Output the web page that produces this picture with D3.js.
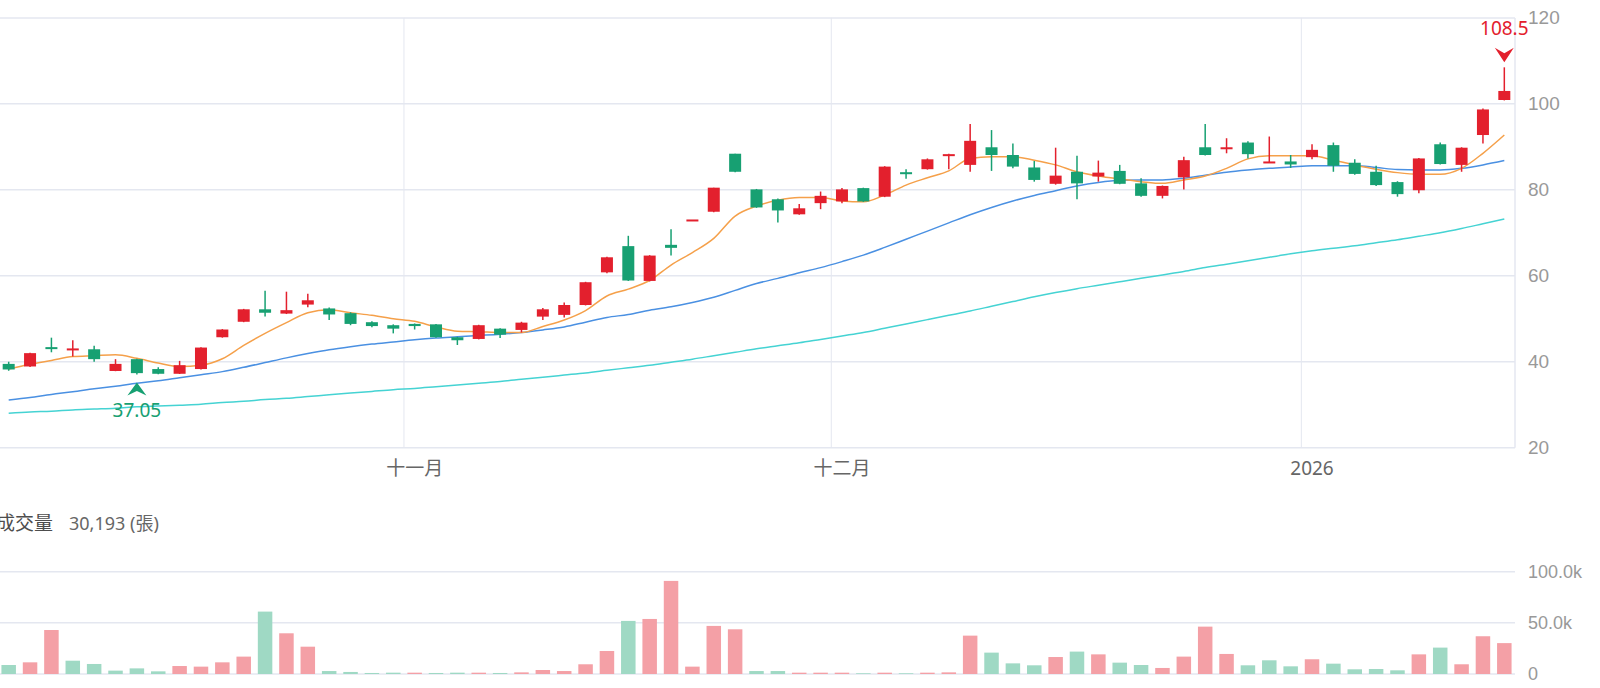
<!DOCTYPE html>
<html>
<head>
<meta charset="utf-8">
<script src="https://cdn.jsdelivr.net/npm/d3@7"></script>
<style>
  html, body { margin: 0; padding: 0; background: #fff; overflow: hidden; }
  svg { display: block; font-family: "Noto Sans", "Noto Sans CJK TC", sans-serif; }
</style>
</head>
<body>
<svg id="chart" width="1600" height="688"></svg>
<script>
// daily K bars (71 trading days)
var opens = [39.5,38.9,43.4,42.9,42.9,37.85,40.6,38.3,37.2,38.3,
  45.7,49.3,52.2,51.2,53.3,52.4,51.3,49.2,48.5,48.8,
  48.7,45.7,45.3,47.7,47.4,50.5,50.9,53.2,60.8,66.9,
  58.8,67.2,73.1,74.9,88.4,80.1,77.8,74.3,76.9,77.3,
  80.4,78.4,84.1,84.8,88.0,85.8,89.9,88.1,85.2,81.4,
  84.2,83.1,84.4,81.5,78.6,82.9,89.9,89.6,91.0,86.4,
  86.6,87.6,90.4,86.3,84.2,81.8,79.9,90.6,85.8,92.75,100.9];
var highs = [40.0,42.1,45.6,45.0,43.7,40.6,40.7,38.7,40.2,43.4,
  47.6,52.3,56.5,56.3,55.8,52.6,51.5,49.4,48.7,48.9,
  48.8,45.8,48.6,47.8,49.3,52.5,53.8,58.6,64.4,69.3,
  64.8,70.8,73.1,80.5,88.4,80.2,78.0,76.7,79.6,80.4,
  80.5,85.5,84.8,87.3,88.4,95.3,93.9,90.8,86.7,89.8,
  87.9,86.8,85.8,82.7,81.0,87.7,95.3,92.0,91.3,92.4,
  88.1,90.6,91.0,87.1,85.6,82.0,87.4,91.0,89.9,98.9,108.5];
var lows = [37.9,38.8,42.2,41.2,40.0,37.8,37.05,37.1,37.15,38.2,
  45.6,49.2,50.5,51.1,52.7,49.7,48.5,48.0,46.6,47.5,
  45.6,43.9,45.2,45.5,46.8,49.7,50.3,53.1,60.6,58.8,
  58.7,64.7,73.1,74.8,84.1,75.8,72.4,74.2,75.5,76.9,
  77.2,78.3,82.6,84.7,84.8,84.2,84.4,85.0,81.9,81.2,
  77.8,81.9,81.3,78.4,78.0,80.1,88.0,88.5,87.3,86.3,
  85.1,87.1,84.2,83.5,80.9,78.4,79.2,85.9,84.2,90.8,100.8];
var closes = [38.2,42.0,43.3,43.1,40.6,39.5,37.35,37.2,39.2,43.3,
  47.5,52.2,51.4,52.0,54.3,51.0,48.8,48.3,47.7,48.3,
  45.7,45.0,48.5,46.3,49.1,52.2,53.2,58.5,64.3,58.9,
  64.7,66.5,73.1,80.5,84.2,75.9,75.2,75.7,78.6,80.1,
  77.3,85.4,83.9,87.1,88.3,91.4,88.1,85.4,82.3,83.3,
  81.5,84.0,81.4,78.6,80.9,86.9,88.1,89.9,88.3,86.6,
  85.9,89.3,85.6,83.7,81.1,79.0,87.3,86.0,89.8,98.7,103.0];
var prevClose = 39.0;   // close of the day before the first bar

// 成交量 (張)
var volumes = [8800,11400,43000,13000,9800,3300,5500,2600,7800,7200,
  11400,17000,61000,39800,26700,2900,2000,1000,1300,1300,
  1000,1300,1300,1000,1600,3900,2900,9500,22500,51900,
  53800,91000,7200,47000,43700,2900,2900,1300,1300,1300,
  700,1300,700,1300,1600,37500,20900,10400,8500,16600,
  21900,19200,11100,8800,5900,17000,46300,19600,8500,13400,
  7500,14400,10100,4600,4900,3600,19200,25800,9500,36900,30193];

// moving averages as drawn
var ma5 = [38.3,39.4,40.3,41.2,41.4,41.6,40.8,39.7,38.9,39.2,
  40.7,43.8,46.6,49.1,51.4,52.1,51.4,50.8,50.0,49.4,
  48.1,47.1,47.0,46.8,46.8,48.2,49.7,51.9,55.3,56.9,
  58.9,62.5,65.4,68.7,73.9,76.2,77.6,78.2,78.2,77.4,
  77.2,78.8,81.1,82.8,84.4,87.3,87.7,87.7,86.9,85.8,
  84.2,83.2,82.5,81.9,81.5,82.3,83.2,85.0,87.2,87.9,
  87.9,87.9,86.9,85.8,84.8,84.0,83.6,83.6,85.0,88.5,92.75];
var ma20 = [31.1,31.7,32.4,33.0,33.7,34.3,35.0,35.6,36.3,37.0,
  37.7,38.7,39.8,40.9,41.9,42.8,43.5,44.1,44.6,45.1,
  45.5,45.8,46.1,46.4,46.8,47.4,48.1,49.2,50.3,51.0,
  52.0,52.8,53.8,55.0,56.6,58.2,59.4,60.7,61.9,63.3,
  64.8,66.6,68.5,70.4,72.3,74.2,75.9,77.4,78.7,79.8,
  80.9,81.7,82.2,82.3,82.3,82.7,83.4,84.1,84.6,85.0,
  85.3,85.6,85.6,85.6,85.2,84.7,84.6,84.6,85.0,85.8,86.8];
var ma60 = [28.0,28.3,28.5,28.8,29.0,29.2,29.5,29.7,29.9,30.1,
  30.5,30.8,31.2,31.5,31.9,32.3,32.7,33.1,33.5,33.8,
  34.2,34.6,35.0,35.4,35.9,36.4,36.9,37.4,38.0,38.6,
  39.2,39.9,40.6,41.4,42.2,43.0,43.7,44.4,45.2,46.0,
  46.8,47.8,48.8,49.8,50.8,51.8,52.9,54.0,55.1,56.1,
  57.0,57.8,58.6,59.4,60.2,61.0,61.9,62.7,63.5,64.3,
  65.1,65.8,66.4,67.0,67.7,68.4,69.2,70.0,71.0,72.1,73.2];

var monthStart = [19, 39, 61];
var monthLabels = ['十一月', '十二月', '2026'];
var priceTicks = [20, 40, 60, 80, 100, 120];
var volTicks = [0, 50000, 100000];

var RED = '#e3202d', GREEN = '#17a072';
var RED_L = '#f4a0a6', GREEN_L = '#9fd9c4';
var GRID = '#e4e7f0';

var svg = d3.select('#chart');
var idx = d3.range(closes.length);

var x = d3.scaleBand().domain(idx).range([-2, 1515]);
var y = d3.scaleLinear().domain([20, 120]).range([447.7, 17.9]);
var yv = d3.scaleLinear().domain([0, 100000]).range([674, 571.7]);
var cx = function(i) { return x(i) + x.bandwidth() / 2; };

// ---- price panel grid
svg.append('g').selectAll('line').data(priceTicks).join('line')
  .attr('x1', 0).attr('x2', 1515)
  .attr('y1', function(d) { return y(d); }).attr('y2', function(d) { return y(d); })
  .attr('stroke', GRID).attr('stroke-width', 1.5);

svg.append('g').selectAll('line').data(monthStart).join('line')
  .attr('x1', function(d) { return x(d); }).attr('x2', function(d) { return x(d); })
  .attr('y1', y(120)).attr('y2', y(20))
  .attr('stroke', GRID).attr('stroke-width', 1);

svg.append('line').attr('x1', 1515).attr('x2', 1515)
  .attr('y1', y(120)).attr('y2', y(20))
  .attr('stroke', GRID).attr('stroke-width', 1.5);

// right price axis labels
var yAxis = d3.axisRight(y).tickValues(priceTicks).tickSize(0).tickPadding(13);
svg.append('g').attr('transform', 'translate(1515,0)').call(yAxis)
  .call(function(g) { g.select('.domain').remove(); })
  .selectAll('text').attr('fill', '#999').style('font-size', '19px');

// month labels
svg.append('g').selectAll('text').data(monthStart).join('text')
  .attr('x', function(d) { return cx(d); }).attr('y', 468)
  .attr('text-anchor', 'middle').attr('dominant-baseline', 'central')
  .attr('fill', '#666').style('font-size', '19px')
  .text(function(d, i) { return monthLabels[i]; });

// ---- moving averages
var line = function(arr) {
  return d3.line().x(function(d, i) { return cx(i); }).y(function(d) { return y(d); })
    .curve(d3.curveMonotoneX)(arr);
};
svg.append('path').attr('d', line(ma60)).attr('fill', 'none').attr('stroke', '#45d3d3').attr('stroke-width', 1.5);
svg.append('path').attr('d', line(ma20)).attr('fill', 'none').attr('stroke', '#4a90e2').attr('stroke-width', 1.5);
svg.append('path').attr('d', line(ma5)).attr('fill', 'none').attr('stroke', '#f5a04a').attr('stroke-width', 1.5);

// ---- candles
var bodyW = 12;
var candles = svg.append('g').selectAll('g').data(idx).join('g');
candles.append('line')
  .attr('x1', cx).attr('x2', cx)
  .attr('y1', function(i) { return y(highs[i]); })
  .attr('y2', function(i) { return y(lows[i]); })
  .attr('stroke', function(i) { return closes[i] >= opens[i] ? RED : GREEN; })
  .attr('stroke-width', 1.5);
candles.append('rect')
  .attr('x', function(i) { return cx(i) - bodyW / 2; })
  .attr('width', bodyW)
  .attr('y', function(i) { return y(Math.max(opens[i], closes[i])); })
  .attr('height', function(i) { return Math.max(2, Math.abs(y(opens[i]) - y(closes[i]))); })
  .attr('fill', function(i) { return closes[i] >= opens[i] ? RED : GREEN; });

// ---- high / low markers
var hi = d3.maxIndex(highs), lo = d3.minIndex(lows);
svg.append('path')
  .attr('transform', 'translate(' + cx(hi) + ',' + (y(highs[hi]) - 5) + ')')
  .attr('d', 'M0,0L-9.5,-14.5L0,-9L9.5,-14.5Z').attr('fill', RED);
svg.append('text').attr('x', cx(hi)).attr('y', 28)
  .attr('text-anchor', 'middle').attr('dominant-baseline', 'central')
  .attr('fill', RED).style('font-size', '19px').text(highs[hi]);
svg.append('path')
  .attr('transform', 'translate(' + cx(lo) + ',' + (y(lows[lo]) + 8) + ')')
  .attr('d', 'M0,0L-9.5,13L0,8.5L9.5,13Z').attr('fill', GREEN);
svg.append('text').attr('x', cx(lo)).attr('y', 410)
  .attr('text-anchor', 'middle').attr('dominant-baseline', 'central')
  .attr('fill', GREEN).style('font-size', '19px').text(lows[lo].toFixed(2));

// ---- volume panel
svg.append('text').attr('x', -4).attr('y', 523).attr('dominant-baseline', 'central')
  .attr('fill', '#4d4d4d').style('font-size', '19px').text('成交量');
svg.append('text').attr('x', 69).attr('y', 523).attr('dominant-baseline', 'central')
  .attr('fill', '#666').style('font-size', '18px')
  .text(d3.format(',')(volumes[volumes.length - 1]) + ' (張)');

svg.append('g').selectAll('line').data(volTicks).join('line')
  .attr('x1', 0).attr('x2', 1515)
  .attr('y1', function(d) { return yv(d); }).attr('y2', function(d) { return yv(d); })
  .attr('stroke', GRID).attr('stroke-width', 1.5);

var volAxis = d3.axisRight(yv).tickValues(volTicks).tickSize(0).tickPadding(13)
  .tickFormat(function(d) { return d === 0 ? '0' : (d / 1000).toFixed(1) + 'k'; });
svg.append('g').attr('transform', 'translate(1515,0)').call(volAxis)
  .call(function(g) { g.select('.domain').remove(); })
  .selectAll('text').attr('fill', '#999').style('font-size', '18px');

var barW = 14.5;
svg.append('g').selectAll('rect').data(idx).join('rect')
  .attr('x', function(i) { return cx(i) - barW / 2; })
  .attr('width', barW)
  .attr('y', function(i) { return yv(volumes[i]); })
  .attr('height', function(i) { return yv(0) - yv(volumes[i]); })
  .attr('fill', function(i) {
    var pc = i === 0 ? prevClose : closes[i - 1];
    return closes[i] >= pc ? RED_L : GREEN_L;
  });
</script>
</body>
</html>
